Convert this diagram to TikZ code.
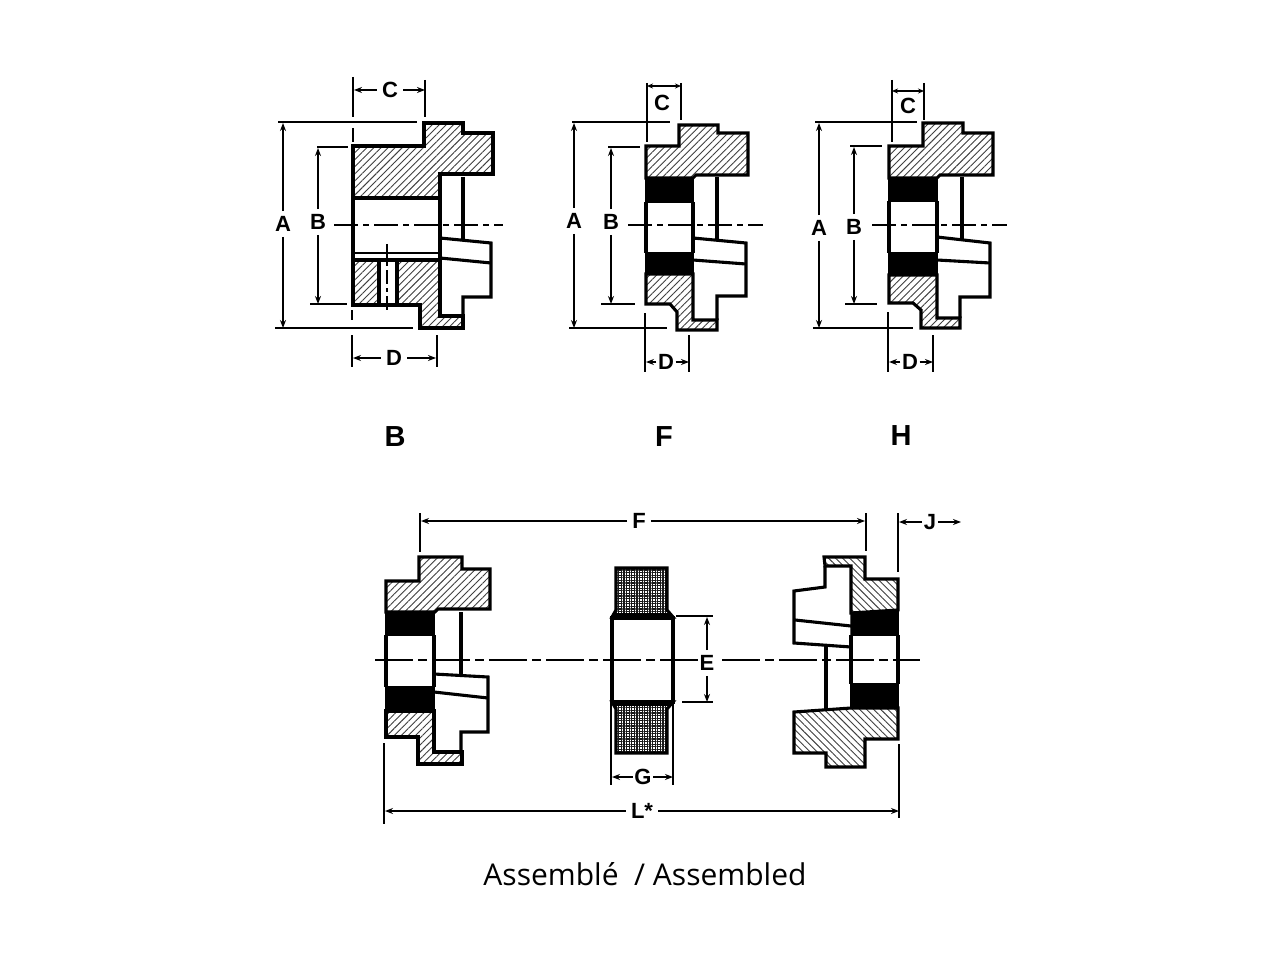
\documentclass[tikz,border=0pt]{standalone}
\usepackage{fontspec}
\setmainfont{Liberation Sans}
\newfontfamily\captionfont{Open Sans}
\usetikzlibrary{arrows.meta}
\usetikzlibrary{patterns.meta}
\tikzstyle{part}=[line width=3.1pt,line join=miter,line cap=butt]
\tikzstyle{hatchR}=[part,pattern={Lines[angle=45,distance=5pt,line width=.9pt]},pattern color=black!75]
\tikzstyle{hatchL}=[part,pattern={Lines[angle=-45,distance=5pt,line width=.9pt]},pattern color=black!75]
\tikzstyle{mesh}=[part,pattern={Hatch[angle=0,distance=2.6pt,line width=1.35pt]},pattern color=black!90]
\tikzstyle{band}=[fill=black,draw=black,line width=1.5pt]
\tikzstyle{ext}=[line width=1.7pt]
\tikzstyle{axis}=[line width=1.6pt,dash pattern=on 24pt off 5pt on 6pt off 5pt]
\tikzstyle{axislong}=[line width=2pt,dash pattern=on 38pt off 5pt on 9pt off 5pt]
\tikzstyle{dim}=[line width=1.6pt,-{Stealth[length=8pt,width=6pt]}]
\tikzstyle{dimb}=[line width=1.6pt,{Stealth[length=6pt,width=5pt]}-{Stealth[length=6pt,width=5pt]}]
\tikzstyle{lab}=[inner sep=5pt,font=\fontsize{22}{22}\selectfont\bfseries]
\tikzstyle{tight}=[lab,inner sep=1.5pt]
\tikzstyle{title}=[inner sep=0pt,font=\fontsize{29}{29}\selectfont\bfseries]
\newcommand\arm[3]{\coordinate (#2) at (#3);\draw[dim] (#1) -- (#2);}
\begin{document}
\begin{tikzpicture}[x=1pt,y=-1pt]
	\useasboundingbox (0,0) rectangle (1280,960);
	\fill[white] (0,0) rectangle (1280,960);
	% hub B
	\draw[hatchR] (353,146) -- (424,146) -- (424,123) -- (463,123) -- (463,133) -- (493,133) -- (493,174) -- (440,174) -- (440,198) -- (353,198) -- cycle;
	\draw[hatchR] (353,260) -- (440,260) -- (440,316) -- (463,316) -- (463,328) -- (420,328) -- (420,305) -- (353,305) -- cycle;
	\fill[white] (379,260) rectangle (397,305);
	\draw[part] (379,260) rectangle (397,305);
	\draw[ext,dash pattern=on 14pt off 4pt on 4pt off 4pt] (387,244) -- (387,313);
	\draw[part] (353,198) -- (353,260) (440,198) -- (440,260) (463,177) -- (463,240);
	\draw[ext] (353,253) -- (440,253);
	\draw[part] (440,238) -- (491,243) -- (491,297) -- (463,297) -- (463,316);
	\draw[part] (440,258) -- (491,263);
	\draw[axis] (334,225) -- (503,225);
	% hub F
	\draw[hatchR] (646,146) -- (679,146) -- (679,125) -- (718,125) -- (718,133) -- (748,133) -- (748,175) -- (696,175) -- (693,178) -- (646,178) -- cycle;
	\draw[hatchR] (646,274) -- (693,274) -- (693,320) -- (717,320) -- (717,330) -- (677,330) -- (677,312) -- (670,304) -- (646,304) -- cycle;
	\draw[band] (646,179) rectangle (693,202);
	\draw[band] (646,253) rectangle (693,274);
	\draw[part] (646,202) -- (646,253) (693,202) -- (693,253) (717,177) -- (717,240);
	\draw[part] (693,238) -- (746,243) -- (746,296) -- (717,296) -- (717,320);
	\draw[part] (693,260) -- (746,264);
	\draw[axis] (628,225) -- (763,225);
	% hub H
	\draw[hatchR] (889,146) -- (923,146) -- (923,123) -- (963,123) -- (963,133) -- (993,133) -- (993,175) -- (940,175) -- (937,178) -- (889,178) -- cycle;
	\draw[hatchR] (889,275) -- (937,275) -- (937,318) -- (960,318) -- (960,328) -- (921,328) -- (921,310) -- (913,303) -- (889,303) -- cycle;
	\draw[band] (889,179) rectangle (937,201);
	\draw[band] (889,253) rectangle (937,275);
	\draw[part] (889,201) -- (889,253) (937,201) -- (937,253) (962,177) -- (962,240);
	\draw[part] (937,237) -- (990,243) -- (990,297) -- (960,297) -- (960,318);
	\draw[part] (937,260) -- (990,263);
	\draw[axis] (872,225) -- (1007,225);
	% assembled, left hub
	\draw[hatchR] (386,581) -- (419,581) -- (419,557) -- (462,557) -- (462,569) -- (490,569) -- (490,609) -- (438,609) -- (435,612) -- (386,612) -- cycle;
	\draw[hatchR] (386,711) -- (434,711) -- (434,752) -- (462,752) -- (462,764) -- (418,764) -- (418,737) -- (386,737) -- cycle;
	\draw[band] (386,613) rectangle (434,635);
	\draw[band] (386,687) rectangle (434,711);
	\draw[part] (386,635) -- (386,687) (434,635) -- (434,687) (461,612) -- (461,675);
	\draw[part] (434,674) -- (488,677) -- (488,732) -- (461,732) -- (461,752);
	\draw[part] (434,692) -- (488,698);
	% assembled, insert
	\draw[mesh] (616,568) -- (667,568) -- (667,610) -- (673,617) -- (612,617) -- (616,610) -- cycle;
	\draw[mesh] (612,702) -- (673,702) -- (667,709) -- (667,753) -- (616,753) -- (616,709) -- cycle;
	\draw[band] (614,614) rectangle (671,618);
	\draw[band] (614,701) rectangle (671,705);
	\draw[part] (612,618) rectangle (673,702);
	% assembled, right hub
	\draw[hatchL] (824,557) -- (865,557) -- (865,579) -- (898,579) -- (898,610) -- (851,613) -- (851,566) -- (825,566) -- cycle;
	\draw[hatchL] (794,712) -- (851,708) -- (898,708) -- (898,739) -- (865,739) -- (865,767) -- (826,767) -- (826,753) -- (794,753) -- cycle;
	\draw[band] (851,613) -- (898,610) -- (898,635) -- (851,635) -- cycle;
	\draw[band] (851,684) rectangle (898,708);
	\draw[part] (898,635) -- (898,684) (851,635) -- (851,684) (826,646) -- (826,709);
	\draw[part] (825,566) -- (825,587) -- (794,591) -- (794,643) -- (851,647);
	\draw[part] (795,620) -- (851,626);
	\draw[axislong] (375,660) -- (702,660) (722,660) -- (920,660);
	% dimensions of hub B
	\node[lab] (cB) at (390,90) {C};
	\arm{cB}{cBl}{354,90}
	\arm{cB}{cBr}{425,90}
	\node[lab] (aB) at (283,224) {A};
	\arm{aB}{aBt}{283,123}
	\arm{aB}{aBb}{283,328}
	\node[lab] (bB) at (318,222) {B};
	\arm{bB}{bBt}{318,148}
	\arm{bB}{bBb}{318,304}
	\node[lab] (dB) at (394,358) {D};
	\arm{dB}{dBl}{353,358}
	\arm{dB}{dBr}{436,358}
	\draw[ext] (353,77) -- (353,117) (353,128) -- (353,142) (425,80) -- (425,117);
	\draw[ext] (278,122) -- (417,122) (275,328) -- (413,328);
	\draw[ext] (317,147) -- (348,147) (310,304) -- (347,304);
	\draw[ext] (352,335) -- (352,367) (352,310) -- (352,320) (437,335) -- (437,367);
	% dimensions of hub F
	\node[lab] (cF) at (662,103) {C};
	\coordinate (cFl) at (647,86);
	\coordinate (cFr) at (681,86);
	\draw[dimb] (cFl) -- (cFr);
	\node[lab] (aF) at (574,221) {A};
	\arm{aF}{aFt}{574,123}
	\arm{aF}{aFb}{574,328}
	\node[lab] (bF) at (611,222) {B};
	\arm{bF}{bFt}{611,148}
	\arm{bF}{bFb}{611,304}
	\node[tight] (dF) at (666,362) {D};
	\arm{dF}{dFl}{646,362}
	\arm{dF}{dFr}{689,362}
	\draw[ext] (647,83) -- (647,142) (681,83) -- (681,120);
	\draw[ext] (572,122) -- (670,122) (569,328) -- (667,328);
	\draw[ext] (608,147) -- (640,147) (601,304) -- (635,304);
	\draw[ext] (645,313) -- (645,372) (689,335) -- (689,372);
	% dimensions of hub H
	\node[lab] (cH) at (908,106) {C};
	\coordinate (cHl) at (892,91);
	\coordinate (cHr) at (924,91);
	\draw[dimb] (cHl) -- (cHr);
	\node[lab] (aH) at (819,228) {A};
	\arm{aH}{aHt}{819,123}
	\arm{aH}{aHb}{819,328}
	\node[lab] (bH) at (854,227) {B};
	\arm{bH}{bHt}{854,147}
	\arm{bH}{bHb}{854,304}
	\node[tight] (dH) at (910,362) {D};
	\arm{dH}{dHl}{889,362}
	\arm{dH}{dHr}{933,362}
	\draw[ext] (892,80) -- (892,142) (924,83) -- (924,120);
	\draw[ext] (815,122) -- (917,122) (813,328) -- (913,328);
	\draw[ext] (850,146) -- (882,146) (845,304) -- (877,304);
	\draw[ext] (888,312) -- (888,372) (933,335) -- (933,372);
	% titles
	\node[title] (tB) at (395,437) {B};
	\node[title] (tF) at (664,437) {F};
	\node[title] (tH) at (901,436) {H};
	% dimensions of the assembly
	\node[lab] (fA) at (639,521) {F};
	\arm{fA}{fAl}{421,521}
	\arm{fA}{fAr}{865,521}
	\node[tight] (jA) at (930,522) {J};
	\arm{jA}{jAl}{899,522}
	\arm{jA}{jAr}{961,522}
	\node[lab] (eA) at (707,663) {E};
	\arm{eA}{eAt}{707,617}
	\arm{eA}{eAb}{707,702}
	\node[tight] (gA) at (643,777) {G};
	\arm{gA}{gAl}{612,777}
	\arm{gA}{gAr}{673,777}
	\node[lab] (lA) at (642,811) {L*};
	\arm{lA}{lAl}{385,811}
	\arm{lA}{lAr}{899,811}
	\draw[ext] (420,513) -- (420,552) (866,513) -- (866,551) (898,513) -- (898,572);
	\draw[ext] (676,616) -- (713,616) (682,702) -- (713,702);
	\draw[ext] (611,703) -- (611,785) (673,703) -- (673,785);
	\draw[ext] (384,743) -- (384,824) (899,744) -- (899,818);
	\node[inner sep=0pt,font=\captionfont\fontsize{30}{30}\selectfont] (cap) at (645,874) {Assemblé~ / Assembled};
\end{tikzpicture}
\end{document}
